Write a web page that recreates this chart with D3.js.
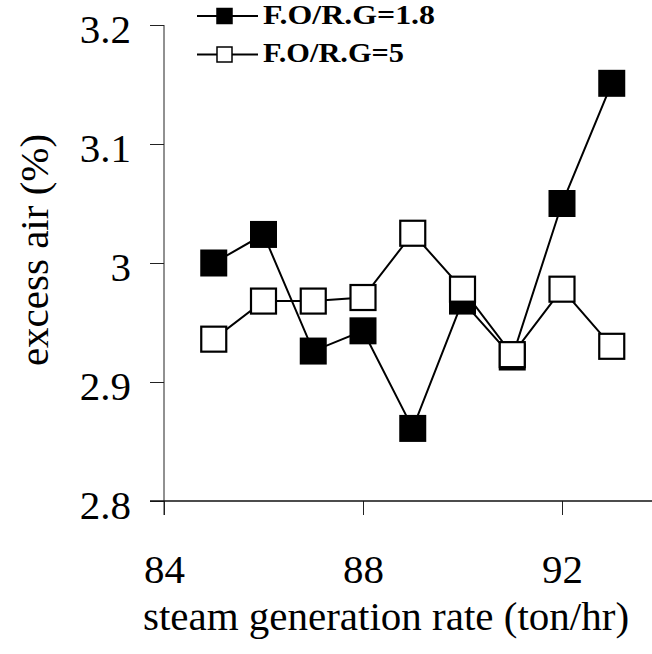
<!DOCTYPE html>
<html>
<head>
<meta charset="utf-8">
<script src="https://cdn.jsdelivr.net/npm/d3@7"></script>
<style>
  body { margin: 0; background: #fff; }
  svg { display: block; font-family: "Liberation Serif", "Times New Roman", serif; }
</style>
</head>
<body>
<div id="container"></div>
<script>
// chart size
let w = 652;
let h = 654;

// data
let rates = [85, 86, 87, 88, 89, 90, 91, 92, 93];            // ton/hr
let airLow = [3.000, 3.024, 2.926, 2.943, 2.861, 2.968, 2.921, 3.050, 3.151];  // F.O/R.G=1.8
let airHigh = [2.936, 2.968, 2.968, 2.971, 3.025, 2.978, 2.923, 2.978, 2.930]; // F.O/R.G=5
let xTicks = [84, 88, 92];
let yTicks = [2.8, 2.9, 3.0, 3.1, 3.2];
let yTickLabels = ["2.8", "2.9", "3", "3.1", "3.2"];
let seriesNames = ["F.O/R.G=1.8", "F.O/R.G=5"];

// scales
let x = d3.scaleLinear().domain([84, 94]).range([164, 661.5]);
let y = d3.scaleLinear().domain([2.8, 3.2]).range([501, 25]);

let svg = d3.select("#container")
  .append("svg")
  .attr("width", w)
  .attr("height", h);

let tick = 14;

// y axis
let yAxis = svg.append("g")
  .attr("transform", "translate(" + x(84) + ",0)")
  .call(d3.axisLeft(y).tickValues(yTicks).tickSize(tick).tickSizeOuter(0).tickPadding(19)
    .tickFormat(function(d, i) { return yTickLabels[i]; }));
yAxis.select(".domain").remove();
yAxis.selectAll("line").attr("stroke", "#222");
yAxis.selectAll("text")
  .attr("dy", "0.42em")
  .style("font-size", "41px")
  .style("font-family", "Liberation Serif, Times New Roman, serif")
  .attr("fill", "#000");
svg.append("line")
  .attr("x1", x(84)).attr("x2", x(84))
  .attr("y1", y(3.2)).attr("y2", y(2.8) + tick)
  .attr("stroke", "#222");

// x axis
let xAxis = svg.append("g")
  .attr("transform", "translate(0," + y(2.8) + ")")
  .call(d3.axisBottom(x).tickValues(xTicks).tickSize(tick).tickSizeOuter(0));
xAxis.select(".domain").remove();
xAxis.selectAll("line").attr("stroke", "#222");
xAxis.selectAll("text")
  .attr("y", 82)
  .attr("dy", "0")
  .style("font-size", "41px")
  .style("font-family", "Liberation Serif, Times New Roman, serif")
  .attr("fill", "#000");
svg.append("line")
  .attr("x1", x(84) - tick).attr("x2", x(94))
  .attr("y1", y(2.8)).attr("y2", y(2.8))
  .attr("stroke", "#111")
  .attr("stroke-width", 1.3);

// axis titles
svg.append("text")
  .attr("x", 386).attr("y", 630)
  .attr("text-anchor", "middle")
  .style("font-size", "41px")
  .text("steam generation rate (ton/hr)");

svg.append("text")
  .attr("transform", "translate(48,250) rotate(-90)")
  .attr("text-anchor", "middle")
  .style("font-size", "41px")
  .text("excess air (%)");

// series
let line = d3.line()
  .x(function(d, i) { return x(rates[i]); })
  .y(function(d) { return y(d); });

function drawSeries(values, filled) {
  svg.append("path")
    .datum(values)
    .attr("d", line)
    .attr("fill", "none")
    .attr("stroke", "#000")
    .attr("stroke-width", 2);
  let s = filled ? 27 : 25;
  svg.selectAll(null)
    .data(values)
    .enter()
    .append("rect")
    .attr("x", function(d, i) { return x(rates[i]) - s / 2; })
    .attr("y", function(d) { return y(d) - s / 2; })
    .attr("width", s)
    .attr("height", s)
    .attr("fill", filled ? "#000" : "#fff")
    .attr("stroke", "#000")
    .attr("stroke-width", filled ? 0 : 2.2);
}
drawSeries(airLow, true);
drawSeries(airHigh, false);

// legend
let legend = svg.append("g");
seriesNames.forEach(function(name, i) {
  let cy = 16 + i * 38.5;
  legend.append("line")
    .attr("x1", 197).attr("x2", 258)
    .attr("y1", cy).attr("y2", cy)
    .attr("stroke", "#000")
    .attr("stroke-width", 1.8);
  legend.append("rect")
    .attr("x", 217).attr("y", cy - 7.5)
    .attr("width", 15).attr("height", 15)
    .attr("fill", i == 0 ? "#000" : "#fff")
    .attr("stroke", "#000")
    .attr("stroke-width", 1.5);
  legend.append("text")
    .attr("x", 263).attr("y", cy + 7.5)
    .style("font-size", "27px")
    .style("font-weight", "bold")
    .attr("textLength", i == 0 ? 172 : 141)
    .attr("lengthAdjust", "spacingAndGlyphs")
    .text(name);
});
</script>
</body>
</html>
